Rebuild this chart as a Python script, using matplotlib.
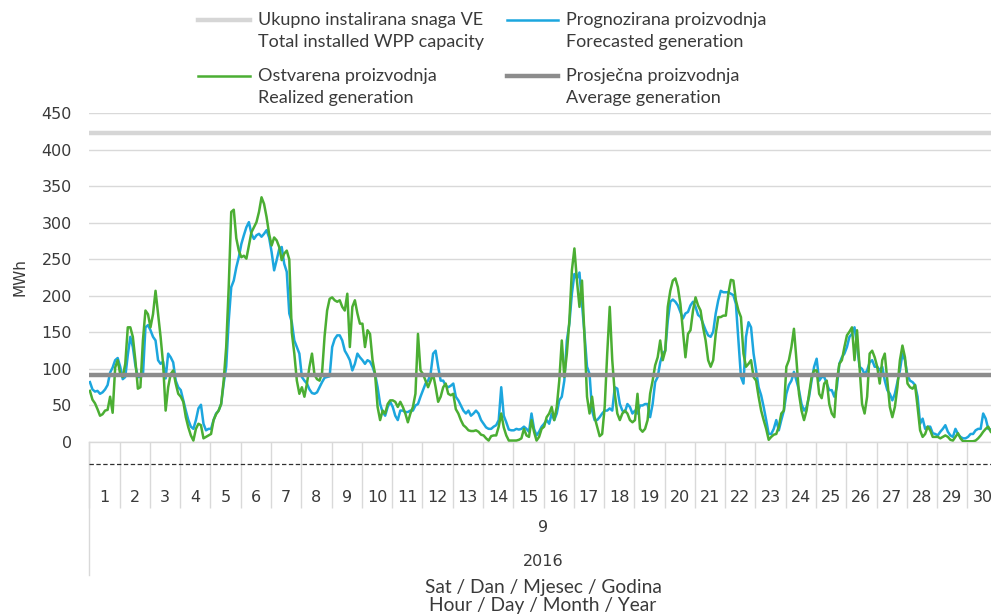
import matplotlib
matplotlib.use("Agg")
import matplotlib.pyplot as plt
import matplotlib.transforms as mtransforms
from matplotlib.lines import Line2D
import numpy as np

# ---------------- data (2-hour resolution) ----------------
days = list(range(1, 31))
month_label = "9"
year_label = "2016"
step_hours = 2
y_ticks = [0, 50, 100, 150, 200, 250, 300, 350, 400, 450]

forecast = [
    82, 72, 69, 70, 66, 68, 72, 78, 95, 102, 112, 115,          # 1
    103, 86, 89, 119, 144, 130, 105, 89, 89, 91, 157, 160,      # 2
    153, 144, 139, 112, 107, 110, 87, 121, 116, 109, 84, 75,    # 3
    71, 57, 43, 30, 21, 18, 30, 46, 51, 25, 16, 18,             # 4
    18, 30, 39, 43, 52, 80, 103, 166, 212, 221, 239, 253,       # 5
    271, 283, 294, 301, 285, 278, 283, 285, 281, 285, 290, 280, # 6
    260, 235, 249, 264, 267, 244, 233, 176, 164, 139, 130, 121, # 7
    89, 84, 80, 72, 67, 66, 68, 75, 82, 88, 89, 90,             # 8
    130, 141, 146, 146, 139, 125, 119, 112, 98, 107, 121, 116,  # 9
    112, 107, 112, 110, 103, 93, 75, 52, 41, 36, 48, 55,        # 10
    48, 36, 30, 43, 43, 41, 41, 43, 43, 50, 52, 62,             # 11
    71, 80, 84, 93, 121, 125, 103, 84, 84, 77, 75, 77,          # 12
    80, 62, 57, 50, 43, 39, 43, 36, 39, 43, 39, 30,             # 13
    25, 20, 18, 18, 21, 23, 30, 75, 36, 27, 17, 16,             # 14
    16, 18, 17, 18, 21, 18, 14, 39, 18, 9, 14, 21,              # 15
    25, 30, 25, 39, 30, 39, 57, 62, 84, 139, 162, 203,          # 16
    230, 224, 232, 189, 148, 103, 93, 43, 30, 30, 34, 39,       # 17
    43, 43, 46, 43, 75, 73, 52, 43, 41, 52, 48, 39,             # 18
    43, 39, 50, 50, 52, 52, 34, 52, 82, 89, 109, 121,           # 19
    125, 166, 192, 195, 192, 187, 178, 169, 176, 178, 187, 192, # 20
    185, 174, 171, 162, 153, 146, 144, 151, 176, 194, 207, 205, # 21
    205, 205, 203, 201, 189, 139, 89, 80, 144, 164, 157, 121,   # 22
    98, 75, 64, 48, 30, 11, 11, 18, 30, 16, 30, 43,             # 23
    66, 78, 84, 96, 84, 71, 52, 43, 48, 62, 84, 103,            # 24
    114, 84, 89, 89, 80, 71, 71, 62, 75, 107, 116, 121,         # 25
    130, 144, 148, 157, 133, 103, 100, 93, 98, 109, 112, 103,   # 26
    103, 98, 103, 84, 71, 66, 57, 66, 82, 98, 121, 112,         # 27
    91, 84, 82, 78, 62, 25, 32, 18, 21, 21, 12, 11,             # 28
    9, 14, 18, 23, 14, 9, 7, 18, 11, 7, 5, 5,                   # 29
    7, 11, 11, 16, 18, 18, 39, 32, 18, 17, 18, 16,              # 30
]

realized = [
    70, 58, 53, 45, 36, 38, 43, 44, 62, 40, 102, 112,           # 1
    93, 89, 107, 157, 157, 144, 112, 73, 75, 139, 180, 175,     # 2
    157, 175, 207, 175, 144, 107, 43, 75, 93, 98, 80, 66,       # 3
    62, 55, 34, 20, 9, 2, 18, 25, 23, 5, 7, 9,                  # 4
    11, 30, 38, 43, 52, 84, 130, 212, 315, 318, 279, 262,       # 5
    253, 255, 251, 269, 287, 294, 301, 315, 335, 326, 308, 285, # 6
    269, 280, 276, 267, 249, 258, 262, 250, 150, 121, 84, 66,   # 7
    75, 62, 80, 103, 121, 92, 86, 84, 95, 145, 180, 196,        # 8
    198, 194, 192, 194, 185, 180, 203, 130, 185, 194, 176, 162, # 9
    162, 130, 153, 148, 112, 93, 48, 30, 43, 39, 52, 57,        # 10
    57, 55, 48, 55, 48, 39, 27, 39, 48, 66, 148, 98,            # 11
    93, 84, 75, 84, 93, 75, 55, 62, 75, 80, 66, 64,             # 12
    66, 45, 39, 30, 23, 20, 16, 15, 15, 16, 14, 10,             # 13
    9, 5, 2, 8, 9, 9, 21, 39, 20, 9, 2, 2,                      # 14
    2, 2, 3, 5, 18, 9, 7, 30, 14, 2, 7, 18,                     # 15
    21, 34, 39, 48, 30, 48, 84, 139, 89, 121, 166, 235,         # 16
    265, 221, 185, 221, 144, 62, 39, 62, 34, 21, 8, 11,         # 17
    48, 121, 185, 112, 66, 39, 30, 39, 43, 39, 30, 27,          # 18
    30, 66, 18, 14, 18, 30, 66, 84, 105, 116, 139, 112,         # 19
    125, 185, 207, 221, 224, 212, 189, 153, 116, 148, 153, 180, # 20
    198, 187, 180, 157, 139, 112, 103, 112, 148, 171, 171, 173, # 21
    173, 203, 222, 221, 194, 180, 171, 121, 103, 107, 112, 89,  # 22
    84, 62, 43, 30, 18, 3, 7, 10, 11, 21, 39, 43,               # 23
    103, 112, 130, 155, 112, 66, 43, 30, 43, 66, 89, 98,        # 24
    98, 66, 60, 80, 84, 52, 39, 34, 84, 107, 112, 130,          # 25
    146, 151, 157, 112, 153, 103, 52, 39, 62, 121, 125, 116,    # 26
    103, 80, 112, 121, 84, 48, 34, 48, 75, 112, 132, 116,       # 27
    80, 75, 73, 78, 48, 16, 7, 11, 21, 16, 7, 7,                # 28
    7, 5, 7, 9, 7, 3, 2, 7, 12, 5, 1, 1,                        # 29
    1, 1, 1, 2, 5, 9, 14, 18, 21, 14, 11, 9,                    # 30
]

capacity = 423
average = 92

legend_texts = [
    ("Ukupno instalirana snaga VE", "Total installed WPP capacity"),
    ("Prognozirana proizvodnja", "Forecasted generation"),
    ("Ostvarena proizvodnja", "Realized generation"),
    ("Prosječna proizvodnja", "Average generation"),
]
y_title = "MWh"
x_title_1 = "Sat / Dan / Mjesec / Godina"
x_title_2 = "Hour / Day / Month / Year"

# ---------------- styles ----------------
C_BLUE = "#1CA6DE"
C_GREEN = "#4BAE33"
C_AVG = "#8C8C8C"
C_CAP = "#D6D6D6"
C_GRID = "#D9D9D9"
C_TXT = "#3A3A3A"
NUM_FONT = "DejaVu Sans"
TXT_FONT = "Lato"

W, H = 991, 614
fig = plt.figure(figsize=(W / 100, H / 100), dpi=100)

def fx(px):
    return px / W

def fy(py):
    return 1 - py / H

L, R, T, B = 89.3, 997.7, 113.3, 442.0
ax = fig.add_axes([fx(L), fy(B), fx(R) - fx(L), fy(T) - fy(B)])
ax_h = B - T

def ay(py):
    # pixel y -> axes fraction
    return (B - py) / ax_h

n_hours = len(days) * 24
x = np.arange(len(forecast)) * step_hours + 0.5

ax.set_xlim(0, n_hours)
ax.set_ylim(y_ticks[0], y_ticks[-1])

ax.axhline(capacity, color=C_CAP, lw=3.2, zorder=2)
ax.plot(x, forecast, color=C_BLUE, lw=1.8, zorder=3)
ax.plot(x, realized, color=C_GREEN, lw=1.8, zorder=4)
ax.axhline(average, color=C_AVG, lw=3.2, zorder=5)

ax.set_yticks(y_ticks)
ax.set_yticklabels([str(v) for v in y_ticks], fontsize=11.5, family=NUM_FONT, color=C_TXT)
ax.tick_params(axis="y", length=0, pad=12.5)
ax.yaxis.grid(True, color=C_GRID, lw=1.0, zorder=0)
ax.set_axisbelow(True)

for s in ["left", "right", "top"]:
    ax.spines[s].set_visible(False)
ax.spines["bottom"].set_color(C_GRID)
ax.spines["bottom"].set_linewidth(1.0)

bounds = [24 * (d - 1) for d in days] + [24 * days[-1]]
ax.set_xticks(bounds)
ax.set_xticklabels([""] * len(bounds))
ax.tick_params(axis="x", length=66 * 0.72, width=1.0, color=C_GRID, direction="out")

blend = mtransforms.blended_transform_factory(ax.transData, ax.transAxes)
# long first separator (month / year levels)
ax.add_line(Line2D([0, 0], [ay(442), ay(575)], transform=blend, color=C_GRID, lw=1.0, clip_on=False))
# dashed line under the hour level
ax.add_line(Line2D([0, n_hours], [ay(464), ay(464)], transform=blend, color="#303030",
                   lw=0.9, ls=(0, (3.5, 2)), clip_on=False))

for d in days:
    ax.text(24 * d - 12, ay(497), str(d), transform=blend, ha="center", va="center",
            fontsize=11.5, family=NUM_FONT, color=C_TXT)

ax.text(n_hours / 2, ay(528), month_label, transform=blend, ha="center", va="center",
        fontsize=11.5, family=NUM_FONT, color=C_TXT)
ax.text(n_hours / 2, ay(562), year_label, transform=blend, ha="center", va="center",
        fontsize=11.5, family=NUM_FONT, color=C_TXT)

fig.text(fx(543), fy(587), x_title_1, ha="center", va="center", fontsize=13.8, family=TXT_FONT, color=C_TXT)
fig.text(fx(543), fy(606), x_title_2, ha="center", va="center", fontsize=13.8, family=TXT_FONT, color=C_TXT)
fig.text(fx(19.5), fy(277), y_title, ha="center", va="center", rotation=90,
         fontsize=11, family=NUM_FONT, color=C_TXT)

# ---------------- legend ----------------
handles = [
    (198, 250, 20, C_CAP, 3.2),
    (507, 558, 20, C_BLUE, 1.8),
    (198, 250, 76, C_GREEN, 1.8),
    (507, 558, 76, C_AVG, 3.2),
]
text_x = [258, 566, 258, 566]
for (x0, x1, yy, col, lw), tx, (l1, l2) in zip(handles, text_x, legend_texts):
    fig.add_artist(Line2D([fx(x0), fx(x1)], [fy(yy), fy(yy)], color=col, lw=lw))
    fig.text(fx(tx), fy(yy), l1, ha="left", va="center", fontsize=13, family=TXT_FONT, color=C_TXT)
    fig.text(fx(tx), fy(yy + 22), l2, ha="left", va="center", fontsize=13, family=TXT_FONT, color=C_TXT)

fig.savefig("out.png", dpi=100)
